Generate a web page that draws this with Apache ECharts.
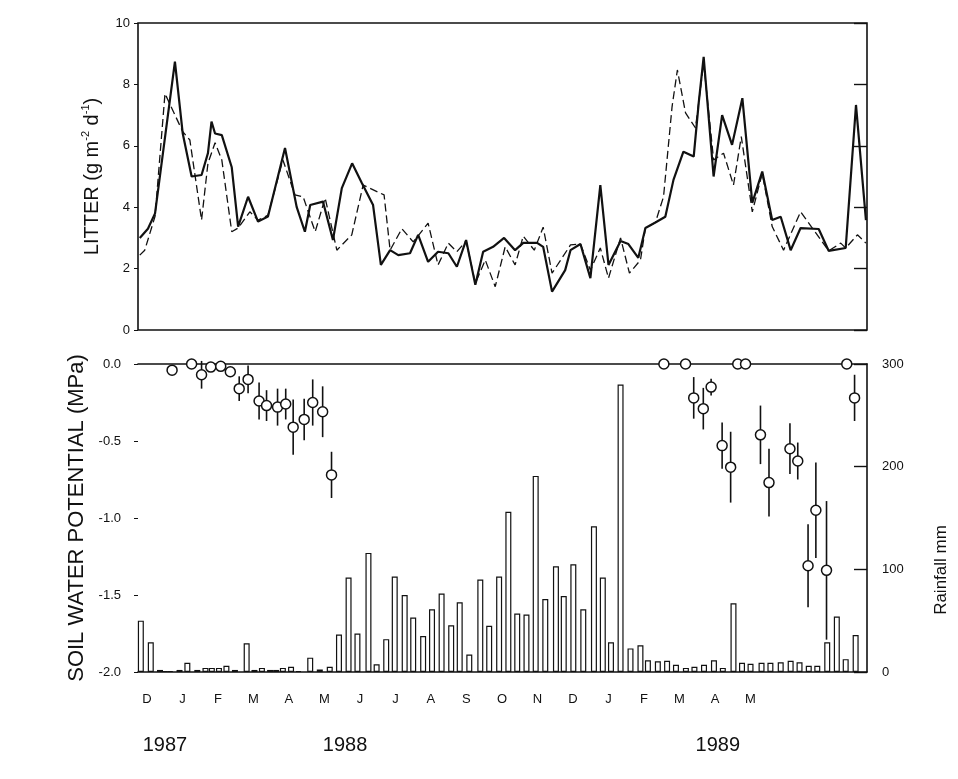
<!DOCTYPE html>
<html>
<head>
<meta charset="utf-8">
<script src="https://cdn.jsdelivr.net/npm/echarts@6/dist/echarts.min.js"></script>
<style>html,body{margin:0;padding:0;background:#fff}#c{width:958px;height:779px}</style>
</head>
<body>
<div id="c"></div>
<script>
// ---- data (x in months; 0 = December 1987 label) ----
const monthLabels = ['D','J','F','M','A','M','J','J','A','S','O','N','D','J','F','M','A','M'];
const yearLabels = ['1987','1988','1989'];
const yearPos = [0.51, 5.58, 16.08];
const litterTicks = [0, 2, 4, 6, 8, 10];

// litter, solid line
const litterX1 = [-0.20,0.03,0.23,0.79,1.01,1.26,1.54,1.72,1.82,1.92,2.11,2.39,2.57,2.85,3.13,3.41,3.89,4.22,4.45,4.60,4.96,5.24,5.49,5.78,6.05,6.37,6.59,6.85,7.08,7.41,7.64,7.92,8.20,8.49,8.73,8.99,9.25,9.47,9.75,10.06,10.37,10.60,10.99,11.16,11.41,11.78,11.93,12.21,12.49,12.77,13.00,13.34,13.56,13.84,14.04,14.32,14.60,14.83,15.11,15.40,15.54,15.68,15.96,16.20,16.48,16.77,17.05,17.33,17.61,17.85,18.13,18.41,18.92,19.20,19.68,19.97,20.25];
const litter1  = [3.0,3.3,3.8,8.74,6.4,5.0,5.05,5.76,6.79,6.4,6.35,5.3,3.37,4.34,3.53,3.7,5.93,4.0,3.2,4.07,4.18,2.93,4.62,5.43,4.8,4.07,2.12,2.6,2.44,2.5,3.1,2.22,2.55,2.5,2.06,2.93,1.47,2.55,2.71,3.0,2.6,2.84,2.84,2.71,1.25,1.95,2.6,2.8,1.69,4.72,2.12,2.9,2.8,2.35,3.32,3.5,3.69,4.89,5.81,5.65,7.39,8.9,5.0,7.0,6.03,7.55,4.14,5.16,3.58,3.69,2.6,3.32,3.29,2.58,2.67,7.33,3.58];
// litter, dashed line
const litterX2 = [-0.20,-0.06,0.23,0.51,0.59,1.01,1.21,1.54,1.72,1.92,2.11,2.39,2.57,2.90,3.13,3.41,3.83,4.17,4.40,4.74,5.02,5.35,5.77,6.09,6.68,6.85,7.18,7.50,7.92,8.20,8.49,8.73,8.99,9.25,9.53,9.81,10.09,10.37,10.60,10.91,11.16,11.41,11.93,12.21,12.49,12.77,13.00,13.34,13.59,13.90,14.04,14.32,14.55,14.79,14.94,15.17,15.45,15.68,15.96,16.24,16.52,16.74,17.05,17.33,17.61,17.93,18.41,18.74,19.20,19.54,19.68,20.01,20.25];
const litter2  = [2.44,2.6,3.7,7.7,7.5,6.46,6.19,3.58,5.43,6.1,5.54,3.2,3.32,3.85,3.58,3.74,5.54,4.4,4.34,3.2,4.3,2.6,3.1,4.72,4.4,2.6,3.3,2.87,3.48,2.12,2.83,2.55,2.9,1.52,2.28,1.41,2.71,2.12,3.06,2.6,3.35,1.85,2.77,2.8,1.95,2.67,1.69,3.0,1.85,2.28,3.32,3.5,4.34,7.27,8.47,7.07,6.58,8.7,5.54,5.76,4.72,6.3,3.85,5.1,3.37,2.6,3.85,3.32,2.58,2.83,2.67,3.1,2.83];

// rainfall (mm)
const rainX = [-0.17,0.11,0.37,0.52,0.66,0.92,1.14,1.42,1.65,1.83,2.03,2.24,2.48,2.81,3.03,3.24,3.47,3.64,3.83,4.06,4.27,4.60,4.87,5.15,5.41,5.68,5.93,6.24,6.47,6.74,6.98,7.26,7.50,7.78,8.03,8.30,8.57,8.81,9.08,9.39,9.64,9.92,10.18,10.43,10.69,10.95,11.22,11.52,11.74,12.01,12.29,12.59,12.84,13.07,13.34,13.62,13.90,14.11,14.39,14.65,14.90,15.18,15.42,15.69,15.97,16.22,16.52,16.76,17.00,17.31,17.56,17.85,18.13,18.38,18.64,18.88,19.16,19.43,19.68,19.96];
const rain  = [50,29,2,1,1,2,9,2,4,4,4,6,2,28,2,4,2,2,4,5,1,14,2.5,5,36.5,92,37.5,116,7.5,32,93,75,53,35,61,76.5,45.5,68,17,90,45,93,156,57,56,191,71,103,74,105,61,142,92,29,280,23,26,11.5,10.5,11,7,4,5,7,11.5,4,67,9,8,9,9,9.5,11,9.5,6,6,29,54,12.5,36];

// soil water potential (MPa) with error half-widths
const swpX   = [0.71,1.26,1.54,1.80,2.08,2.35,2.60,2.85,3.16,3.37,3.68,3.91,4.12,4.43,4.67,4.95,5.20,14.56,15.17,15.40,15.67,15.89,16.20,16.44,16.64,16.86,17.28,17.52,18.11,18.33,18.62,18.84,19.14,19.71,19.93];
const swp    = [-0.04,0.0,-0.07,-0.02,-0.015,-0.05,-0.16,-0.10,-0.24,-0.27,-0.28,-0.26,-0.41,-0.36,-0.25,-0.31,-0.72,0,0,-0.22,-0.29,-0.15,-0.53,-0.67,0,0,-0.46,-0.77,-0.55,-0.63,-1.31,-0.95,-1.34,0,-0.22];
const swpErr = [0,0,0.09,0,0,0,0.08,0.09,0.12,0.10,0.12,0.10,0.18,0.135,0.15,0.165,0.15,0,0,0.135,0.135,0.055,0.15,0.23,0,0,0.19,0.22,0.165,0.12,0.27,0.31,0.45,0,0.15];

// ---- chart ----
const FONT = 'Liberation Sans, Arial, sans-serif';
const XMIN = -0.25, XMAX = 20.28;
const chart = echarts.init(document.getElementById('c'), null, {renderer: 'canvas'});

const zip = (a, b) => a.map((v, i) => [v, b[i]]);

const hiddenX = (grid, extra) => Object.assign({
  type: 'value', gridIndex: grid, min: XMIN, max: XMAX,
  axisLine: {show: false, onZero: false}, axisTick: {show: false}, axisLabel: {show: false}, splitLine: {show: false}
}, extra || {});

const option = {
  animation: false,
  backgroundColor: '#fff',
  grid: [
    {left: 138, top: 23, width: 729, height: 307, show: true, borderColor: '#111', borderWidth: 1.6, backgroundColor: 'transparent'},
    {left: 138, top: 364, width: 729, height: 308, show: false}
  ],
  xAxis: [
    hiddenX(0),
    hiddenX(1, {
      position: 'bottom',
      axisLine: {show: true, onZero: false, lineStyle: {color: '#111', width: 1.6}},
      axisLabel: {show: true, customValues: monthLabels.map((_, i) => i),
        formatter: v => monthLabels[Math.round(v)] || '', margin: 21,
        fontFamily: FONT, fontSize: 13, color: '#111'}
    }),
    hiddenX(1, {
      position: 'bottom',
      axisLabel: {show: true, customValues: yearPos,
        formatter: v => { const i = yearPos.findIndex(p => Math.abs(p - v) < 1e-6); return i >= 0 ? yearLabels[i] : ''; },
        margin: 63, fontFamily: FONT, fontSize: 20, color: '#111'}
    }),
    hiddenX(1, {
      position: 'top',
      axisLine: {show: true, onZero: false, lineStyle: {color: '#111', width: 1.6}}
    })
  ],
  yAxis: [
    {type: 'value', gridIndex: 0, min: 0, max: 10, interval: 2, position: 'left',
      axisLine: {show: false, onZero: false}, splitLine: {show: false},
      axisTick: {show: true, length: 4, lineStyle: {color: '#111'}},
      axisLabel: {margin: 8, fontFamily: FONT, fontSize: 13, color: '#111',
        formatter: v => litterTicks.includes(v) ? String(v) : ''},
      name: '{a|LITTER (g m}{s|-2}{a| d}{s|-1}{a|)}', nameLocation: 'middle', nameRotate: 90, nameGap: 34,
      nameTextStyle: {rich: {
        a: {fontFamily: FONT, fontSize: 20, color: '#111', lineHeight: 24},
        s: {fontFamily: FONT, fontSize: 11, color: '#111', lineHeight: 11, verticalAlign: 'top'}
      }}
    },
    {type: 'value', gridIndex: 0, min: 0, max: 10, interval: 2, position: 'right',
      axisLine: {show: false, onZero: false}, splitLine: {show: false}, axisLabel: {show: false},
      axisTick: {show: true, inside: true, length: 13, lineStyle: {color: '#111', width: 1.4}}
    },
    {type: 'value', gridIndex: 1, min: -2, max: 0, interval: 0.5, position: 'left',
      axisLine: {show: false, onZero: false}, splitLine: {show: false},
      axisTick: {show: true, length: 4, lineStyle: {color: '#111'}},
      axisLabel: {margin: 17, fontFamily: FONT, fontSize: 13, color: '#111', formatter: v => (Math.abs(v) < 1e-9 ? 0 : v).toFixed(1)},
      name: 'SOIL WATER POTENTIAL (MPa)', nameLocation: 'middle', nameRotate: 90, nameGap: 34,
      nameTextStyle: {fontFamily: FONT, fontSize: 22, color: '#111'}
    },
    {type: 'value', gridIndex: 1, min: 0, max: 300, interval: 100, position: 'right',
      axisLine: {show: true, onZero: false, lineStyle: {color: '#111', width: 1.6}}, splitLine: {show: false},
      axisTick: {show: true, inside: true, length: 13, lineStyle: {color: '#111', width: 1.4}},
      axisLabel: {margin: 15, fontFamily: FONT, fontSize: 13, color: '#111'},
      name: 'Rainfall mm', nameLocation: 'middle', nameRotate: 90, nameGap: 66,
      nameTextStyle: {fontFamily: FONT, fontSize: 17, color: '#111', padding: [0, 104, 0, 0]}
    }
  ],
  series: [
    {type: 'line', xAxisIndex: 0, yAxisIndex: 0, data: zip(litterX1, litter1), symbol: 'none',
      lineStyle: {color: '#111', width: 2.2}, z: 4},
    {type: 'line', xAxisIndex: 0, yAxisIndex: 0, data: zip(litterX2, litter2), symbol: 'none',
      lineStyle: {color: '#111', width: 1.3, type: [8, 4]}, z: 3},
    {type: 'bar', xAxisIndex: 1, yAxisIndex: 3, data: zip(rainX, rain), barWidth: 6,
      itemStyle: {color: '#fff', borderColor: '#111', borderWidth: 1.2}, z: 2},
    {type: 'custom', xAxisIndex: 1, yAxisIndex: 2, z: 5,
      data: swpX.map((x, i) => [x, swp[i], swpErr[i]]),
      renderItem: (params, api) => {
        const x = api.value(0), y = api.value(1), e = api.value(2);
        if (!e) return null;
        const a = api.coord([x, y + e]), b = api.coord([x, y - e]);
        return {type: 'line', shape: {x1: a[0], y1: a[1], x2: b[0], y2: b[1]},
          style: {stroke: '#111', lineWidth: 1.6}};
      }
    },
    {type: 'scatter', xAxisIndex: 1, yAxisIndex: 2, data: zip(swpX, swp), symbol: 'circle', symbolSize: 10,
      itemStyle: {color: '#fff', borderColor: '#111', borderWidth: 1.5, opacity: 1}, z: 6}
  ]
};
chart.setOption(option);
</script>
</body>
</html>
